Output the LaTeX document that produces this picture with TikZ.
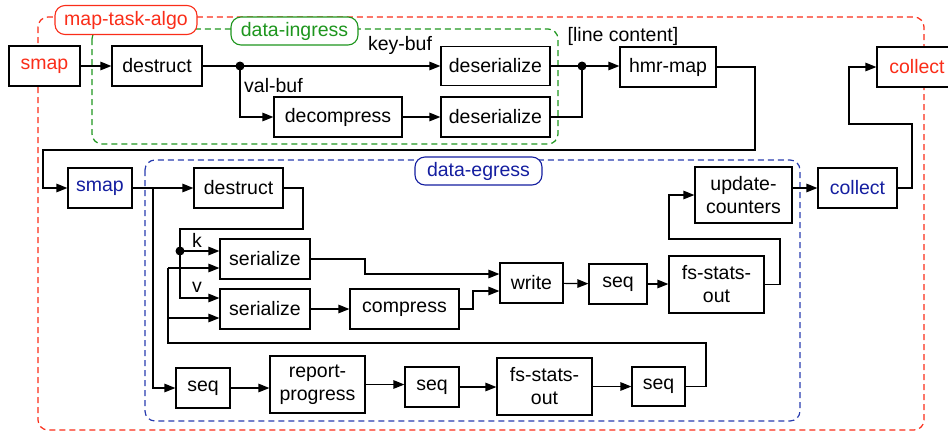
\documentclass[tikz,border=0pt]{standalone}
\usepackage{fontspec}
\setmainfont{Liberation Sans}
\usetikzlibrary{arrows.meta}
\definecolor{cred}{RGB}{250,45,25}
\definecolor{cgreen}{RGB}{30,150,30}
\definecolor{cblue}{RGB}{20,30,160}
\definecolor{cbluel}{RGB}{40,60,175}
\begin{document}
\begin{tikzpicture}[x=1pt,y=-1pt,
  font=\fontsize{19.5}{23}\selectfont,
  blk/.style={draw, fill=white, line width=1.2pt, inner sep=0pt, align=center},
  wire/.style={line width=1.2pt},
  arr/.style={wire, -{Triangle[length=11pt,width=8.5pt]}},
  grp/.style={line width=1.2pt, dash pattern=on 6pt off 4pt, rounded corners=10pt},
  grplbl/.style={fill=white, line width=1.1pt, rounded corners=10pt, inner sep=0pt, minimum height=28pt},
  lbl/.style={inner sep=0pt},
  dot/.style={circle, fill=black, inner sep=0pt, minimum size=9pt}]
\useasboundingbox (0,0) rectangle (948,432);

% containers
\draw[grp, cred] (38,17) rectangle (924,430);
\draw[grp, cgreen] (92,29) rectangle (558,144);
\draw[grp, cbluel] (145,160) rectangle (800,421);
\node[grplbl, draw=cred, text=cred, minimum width=142pt, minimum height=29pt] (lblA) at (126,20) {map-task-algo};
\node[grplbl, draw=cgreen, text=cgreen, minimum width=127pt] (lblB) at (294.5,31) {data-ingress};
\node[grplbl, draw=cblue, text=cblue, minimum width=127pt] (lblC) at (478.5,171) {data-egress};

% top row
\node[blk, minimum width=71pt, minimum height=40pt, text=cred] (smapA) at (44.5,66) {smap};
\node[blk, minimum width=90pt, minimum height=40pt] (destA) at (157,66) {destruct};
\node[blk, minimum width=109pt, minimum height=39pt] (deskey) at (495.5,66) {deserialize};
\node[blk, minimum width=128pt, minimum height=40pt] (decomp) at (338,117) {decompress};
\node[blk, minimum width=109pt, minimum height=40pt] (desval) at (495.5,117) {deserialize};
\node[blk, minimum width=96pt, minimum height=40pt] (hmr) at (668,67) {hmr-map};
\node[blk, minimum width=80pt, minimum height=40pt, text=cred] (collectR) at (917,67) {collect};

% egress
\node[blk, minimum width=64pt, minimum height=40pt, text=cblue] (smapB) at (100,188) {smap};
\node[blk, minimum width=89pt, minimum height=40pt] (destB) at (238.5,188) {destruct};
\node[blk, minimum width=90pt, minimum height=40pt] (ser1) at (265,259) {serialize};
\node[blk, minimum width=90pt, minimum height=40pt] (ser2) at (265,309) {serialize};
\node[blk, minimum width=109pt, minimum height=40pt] (comp) at (404.5,309) {compress};
\node[blk, minimum width=63pt, minimum height=40pt] (write) at (531.5,283) {write};
\node[blk, minimum width=58pt, minimum height=40pt] (seqW) at (618,284) {seq};
\node[blk, minimum width=95pt, minimum height=57pt] (fso1) at (716.5,284.5) {fs-stats-\\out};
\node[blk, minimum width=97pt, minimum height=56pt] (upd) at (743.5,195) {update-\\counters};
\node[blk, minimum width=79pt, minimum height=40pt, text=cblue] (collectB) at (857.5,188) {collect};
\node[blk, minimum width=54pt, minimum height=40pt] (seq1) at (203,388) {seq};
\node[blk, minimum width=95pt, minimum height=57pt] (rep) at (317.5,384.5) {report-\\progress};
\node[blk, minimum width=54pt, minimum height=40pt] (seq2) at (432,387) {seq};
\node[blk, minimum width=95pt, minimum height=57pt] (fso2) at (544.5,386.5) {fs-stats-\\out};
\node[blk, minimum width=53pt, minimum height=39pt] (seq3) at (658.5,386.5) {seq};

% labels
\node[lbl] (tkey) at (400,45) {key-buf};
\node[lbl, anchor=west] (tval) at (244,86) {val-buf};
\node[lbl] (tline) at (623,36) {[line content]};
\node[lbl] (tk) at (197,240) {k};
\node[lbl] (tv) at (197,287) {v};

% coordinates
\coordinate (J1) at (240,66);
\coordinate (J2) at (582,66);
\coordinate (J3) at (180,251);
\coordinate (J4) at (180,298);
\coordinate (H1) at (755,150);
\coordinate (H2) at (43,150);
\coordinate (B1) at (153,188);
\coordinate (D1) at (303,229);
\coordinate (F0) at (706,343);
\coordinate (F3) at (168,343);
\coordinate (F1) at (168,268);
\coordinate (F2) at (168,318);
\coordinate (W1) at (365,274);
\coordinate (W2) at (473,291);
\coordinate (U1) at (780,239);
\coordinate (U2) at (669,195);
\coordinate (C1) at (912,124);
\coordinate (C2) at (849,124);

% ingress connectors
\draw[arr] (smapA) -- (destA);
\draw[wire] (destA.east) -- (J1);
\draw[arr] (J1) -- (deskey.west);
\draw[arr] (J1) |- (decomp.west);
\draw[arr] (decomp) -- (desval);
\draw[wire] (deskey.east) -- (J2);
\draw[wire] (desval.east) -| (J2);
\draw[arr] (J2) -- (J2 -| hmr.west);
\fill (J1) circle (4.5pt);
\fill (J2) circle (4.5pt);

% transfer
\draw[arr] (hmr.east) -| (H1) -- (H2) |- (smapB.west);

% egress connectors
\draw[arr] (smapB) -- (destB);
\draw[arr] (B1) |- (seq1.west);
\draw[wire] (destB.east) -| (D1) -| (J3);
\draw[arr] (J3) -- (J3 -| ser1.west);
\draw[arr] (J3) -- (J4) -- (J4 -| ser2.west);
\fill (J3) circle (4.5pt);
\draw[wire] (seq3.east) -| (F0) -- (F3) -- (F1);
\draw[arr] (F1) -- (F1 -| ser1.west);
\draw[arr] (F2) -- (F2 -| ser2.west);
\draw[arr] (ser1.east) -| (W1) -- (W1 -| write.west);
\draw[arr] (ser2) -- (comp);
\draw[arr] (comp.east) -| (W2) -- (W2 -| write.west);
\draw[arr] (write) -- (seqW);
\draw[arr] (seqW) -- (seqW -| fso1.west);
\draw[arr] (fso1.east) -| (U1) -| (U2) -- (U2 -| upd.west);
\draw[arr] (upd.east |- collectB) -- (collectB.west);
\draw[arr] (collectB.east) -| (C1) -- (C2) |- (collectR.west);
\draw[arr] (seq1) -- (seq1 -| rep.west);
\draw[arr] (rep) -- (rep -| seq2.west);
\draw[arr] (seq2) -- (seq2 -| fso2.west);
\draw[arr] (fso2) -- (fso2 -| seq3.west);
\end{tikzpicture}
\end{document}
